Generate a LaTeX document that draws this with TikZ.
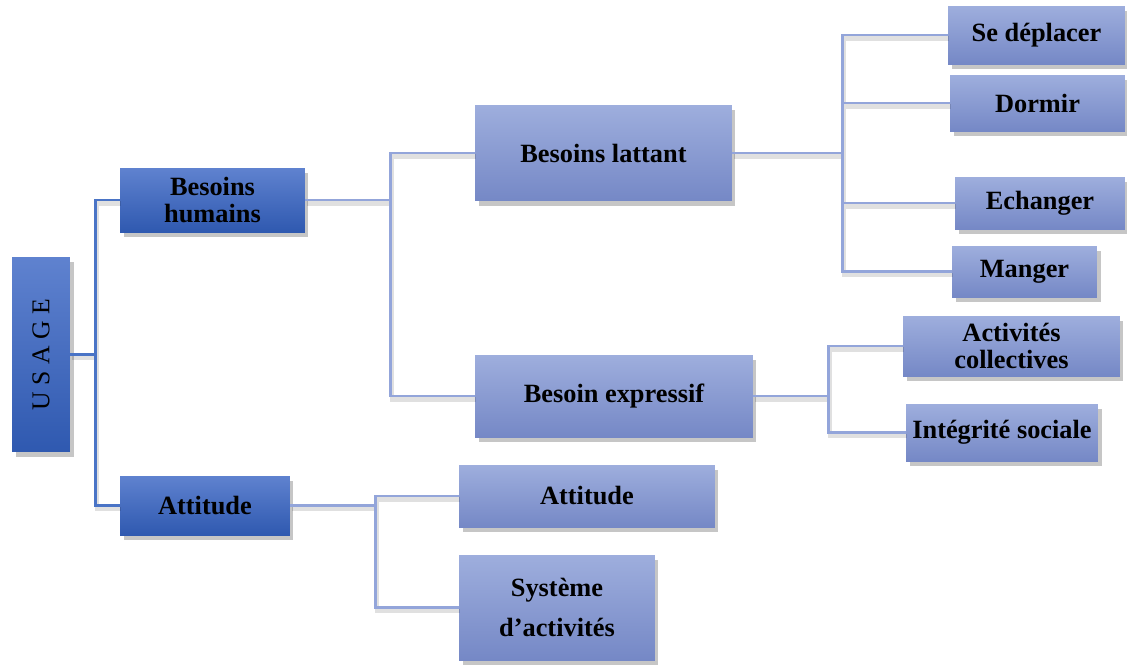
\documentclass[tikz,border=0pt]{standalone}
\usepackage{fontspec}
\setmainfont{Liberation Serif}
\usetikzlibrary{shadows,positioning}
\definecolor{darktop}{HTML}{5F82CF}
\definecolor{darkbot}{HTML}{2F59B0}
\definecolor{lighttop}{HTML}{9EAEDD}
\definecolor{lightbot}{HTML}{7588C6}
\definecolor{darkline}{HTML}{4A74C6}
\definecolor{lightline}{HTML}{93A5DA}
\newlength{\px}
\setlength{\px}{0.2mm}

\begin{document}
\begin{tikzpicture}[x=0.02cm,y=-0.02cm,
	box/.style={inner sep=2pt, align=center, font=\fontsize{15}{15.5}\selectfont\bfseries,
		drop shadow={opacity=0.45, shadow xshift=2pt, shadow yshift=-3pt}},
	darkbox/.style={box, top color=darktop, bottom color=darkbot},
	lightbox/.style={box, top color=lighttop, bottom color=lightbot},
	link/.style={draw=lightline, line width=1.4pt,
		preaction={draw=black, draw opacity=0.12, line width=2.4pt, transform canvas={xshift=1pt,yshift=-2pt}}},
	mainlink/.style={link, draw=darkline}]
			\useasboundingbox (0,0) rectangle (1127,664);
			\node[darkbox, minimum width=58\px, minimum height=195\px] (usage) at (41,354.5)
				{\rotatebox{90}{\fontsize{14.6}{15}\selectfont\mdseries U S A G E}};
			\node[darkbox, minimum width=185\px, minimum height=64\px] (humains) at (212.5,200) {Besoins\\humains};
			\node[darkbox, minimum width=170\px, minimum height=59\px] (attg) at (205,505.5) {Attitude};
			\node[lightbox, minimum width=257\px, minimum height=96\px] (lattant) at (603.5,153) {Besoins lattant};
			\node[lightbox, minimum width=278\px, minimum height=82\px] (expressif) at (614,396) {Besoin expressif};
			\node[lightbox, minimum width=256\px, minimum height=62\px] (attd) at (587,496) {Attitude};
			\node[lightbox, minimum width=196\px, minimum height=105\px] (systeme) at (557,607.5) {Système\\[2.5mm]d’activités};
			\node[lightbox, minimum width=177\px, minimum height=58\px] (deplacer) at (1036.5,35) {Se déplacer};
			\node[lightbox, minimum width=175\px, minimum height=56\px] (dormir) at (1037.5,103) {Dormir};
			\node[lightbox, minimum width=170\px, minimum height=52\px] (echanger) at (1040,203) {Echanger};
			\node[lightbox, minimum width=145\px, minimum height=51\px] (manger) at (1024.5,271.5) {Manger};
			\node[lightbox, minimum width=217\px, minimum height=60\px] (collectives) at (1011.5,346) {Activités\\collectives};
			\node[lightbox, minimum width=192\px, minimum height=57\px] (integrite) at (1002,432.5) {Intégrité sociale};
			\draw[mainlink] (usage.east) -- ++(25,0) coordinate (ju) |- (humains.west)
				(ju) |- (attg.west);
			\draw[link] (humains.east) -- ++(85,0) coordinate (jh) |- (lattant.west)
				(jh) |- (expressif.west);
			\draw[link] (attg.east) -- ++(85,0) coordinate (ja) |- (attd.west)
				(ja) |- (systeme.west);
			\draw[link] (lattant.east) -- ++(110,0) coordinate (jl) |- (deplacer.west)
				(jl) |- (dormir.west) (jl) |- (echanger.west) (jl) |- (manger.west);
			\draw[link] (expressif.east) -- ++(75,0) coordinate (je) |- (collectives.west)
				(je) |- (integrite.west);
\end{tikzpicture}
\end{document}
